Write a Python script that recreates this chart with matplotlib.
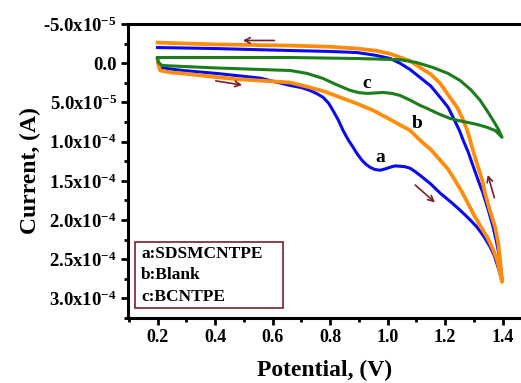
import numpy as np
import matplotlib
matplotlib.use("Agg")
import matplotlib.pyplot as plt
from matplotlib.ticker import MultipleLocator
from matplotlib.patches import Rectangle

plt.rcParams['font.family'] = ['Liberation Serif', 'DejaVu Serif']
plt.rcParams['font.weight'] = 'bold'
plt.rcParams['mathtext.fontset'] = 'custom'
plt.rcParams['mathtext.rm'] = 'Liberation Serif:bold'
plt.rcParams['mathtext.it'] = 'Liberation Serif:bold'
plt.rcParams['mathtext.bf'] = 'Liberation Serif:bold'
plt.rcParams['axes.unicode_minus'] = False

# data (current in units of 1e-5 A)
# a: SDSMCNTPE
a_fwd_x = [0.2, 0.205, 0.216, 0.289, 0.407, 0.557, 0.661, 0.700, 0.730, 0.755, 0.776, 0.795,
           0.810, 0.828, 0.845, 0.862, 0.880, 0.895, 0.911, 0.925, 0.939, 0.955, 0.974, 0.990,
           1.009, 1.025, 1.043, 1.060, 1.078, 1.095, 1.113, 1.150, 1.183, 1.220, 1.252, 1.285,
           1.311, 1.335, 1.357, 1.372, 1.384, 1.398]
a_fwd_y = [-0.5, 0.3, 0.6, 0.93, 1.31, 1.9, 2.84, 3.1, 3.47, 3.9, 4.36, 5.1,
           6.02, 7.2, 8.56, 9.7, 10.72, 11.6, 12.38, 12.9, 13.27, 13.55, 13.65, 13.5,
           13.27, 13.1, 13.14, 13.2, 13.39, 13.8, 14.3, 15.4, 16.58, 17.7, 18.74, 19.9,
           20.9, 22.1, 23.44, 24.6, 26.0, 27.6]
a_rev_x = [1.398, 1.391, 1.380, 1.367, 1.350, 1.332, 1.315, 1.294, 1.280, 1.263, 1.250, 1.228,
           1.210, 1.183, 1.150, 1.113, 1.078, 1.043, 1.009, 0.960, 0.894, 0.800, 0.661, 0.4, 0.2]
a_rev_y = [27.6, 25.1, 23.0, 20.9, 18.7, 16.58, 14.92, 12.76, 11.3, 9.83, 8.6, 6.91,
           5.6, 4.36, 2.9, 1.82, 0.8, 0.0, -0.6, -1.0, -1.36, -1.5, -1.62, -1.87, -2.0]

# b: Blank
b_fwd_x = [0.2, 0.203, 0.209, 0.250, 0.289, 0.463, 0.661, 0.730, 0.780, 0.835, 0.890, 0.950,
           1.000, 1.033, 1.078, 1.113, 1.150, 1.183, 1.210, 1.228, 1.260, 1.297, 1.320, 1.346,
           1.365, 1.381, 1.398]
b_fwd_y = [-0.6, 0.2, 0.93, 1.2, 1.31, 2.0, 2.46, 3.09, 3.6, 4.36, 5.1, 6.02,
           7.0, 7.67, 8.56, 9.83, 11.0, 12.38, 13.5, 14.54, 16.5, 19.12, 20.6, 22.17,
           23.6, 25.1, 27.9]
b_rev_x = [1.398, 1.391, 1.385, 1.374, 1.355, 1.339, 1.329, 1.318, 1.304, 1.290, 1.277, 1.260,
           1.242, 1.210, 1.183, 1.150, 1.113, 1.078, 1.043, 1.009, 0.960, 0.894, 0.800, 0.661,
           0.4, 0.2]
b_rev_y = [27.9, 25.1, 23.0, 20.9, 18.7, 16.58, 14.92, 13.6, 12.0, 10.2, 8.56, 7.0,
           5.64, 4.0, 2.58, 1.4, 0.55, -0.3, -0.75, -1.2, -1.6, -1.87, -2.1, -2.25,
           -2.4, -2.63]

# c: BCNTPE
c_fwd_x = [0.2, 0.203, 0.216, 0.4, 0.661, 0.720, 0.776, 0.820, 0.870, 0.900, 0.929, 0.955,
           0.984, 1.015, 1.043, 1.078, 1.113, 1.137, 1.180, 1.217, 1.245, 1.277, 1.310, 1.346,
           1.375, 1.398]
c_fwd_y = [-0.6, -0.1, 0.29, 0.6, 0.93, 1.3, 1.95, 2.7, 3.47, 3.75, 3.85, 3.8,
           3.73, 3.85, 4.11, 4.7, 5.38, 5.76, 6.5, 7.04, 7.3, 7.54, 7.8, 8.18,
           8.6, 9.45]
c_rev_x = [1.398, 1.385, 1.367, 1.345, 1.322, 1.290, 1.252, 1.210, 1.158, 1.100, 1.043, 0.894,
           0.661, 0.2]
c_rev_y = [9.45, 8.4, 7.29, 6.0, 4.74, 3.4, 2.2, 1.3, 0.55, -0.1, -0.45, -0.6,
           -0.73, -0.73]

yticks = [-5e-5, 0.0, 5e-5, 1e-4, 1.5e-4, 2e-4, 2.5e-4, 3e-4]
ytick_labels = ['-5.0x10$^{-5}$', '0.0', '5.0x10$^{-5}$', '1.0x10$^{-4}$',
                '1.5x10$^{-4}$', '2.0x10$^{-4}$', '2.5x10$^{-4}$', '3.0x10$^{-4}$']
xticks = [0.2, 0.4, 0.6, 0.8, 1.0, 1.2, 1.4]
legend_lines = ['a:SDSMCNTPE', 'b:Blank', 'c:BCNTPE']

blue = '#0a0af0'
orange = '#ff8c0a'
green = '#1b7d1b'
maroon = '#7a1e2e'

fig = plt.figure(figsize=(5.21, 3.83), dpi=100)
ax = fig.add_axes([0.2457, 0.1697, 0.7543, 0.7676])

s = 1e-5
ax.plot(a_fwd_x + a_rev_x, np.array(a_fwd_y + a_rev_y) * s, color=blue, lw=2.2, solid_joinstyle='round')
ax.plot(b_fwd_x + b_rev_x, np.array(b_fwd_y + b_rev_y) * s, color=orange, lw=2.7, solid_joinstyle='round')
ax.plot(c_fwd_x + c_rev_x, np.array(c_fwd_y + c_rev_y) * s, color=green, lw=2.2, solid_joinstyle='round')

ax.set_xlim(0.0974, 1.464)
ax.set_ylim(3.25e-4, -5e-5)

ax.set_xticks(xticks)
ax.set_xticklabels([f'{v:.1f}' for v in xticks])
ax.xaxis.set_minor_locator(MultipleLocator(0.1))
ax.set_yticks(yticks)
ax.set_yticklabels(ytick_labels)
ax.yaxis.set_minor_locator(MultipleLocator(2.5e-5))

ax.tick_params(which='major', direction='out', length=5, width=2, pad=3)
ax.tick_params(axis='x', labelsize=13)
ax.tick_params(axis='y', labelsize=13.5)
ax.tick_params(which='minor', direction='out', length=3, width=2)
for sp in ['left', 'bottom', 'top']:
    ax.spines[sp].set_linewidth(2.2)
ax.spines['right'].set_visible(False)

ax.set_xlabel('Potential, (V)', fontsize=17, fontweight='bold', labelpad=10)
ax.set_ylabel('Current, (A)', fontsize=17, fontweight='bold', labelpad=2)

# curve letters
ax.text(0.929, 2.6e-5, 'c', fontsize=14, fontweight='bold', ha='center', va='center')
ax.text(1.103, 7.7e-5, 'b', fontsize=14, fontweight='bold', ha='center', va='center')
ax.text(0.974, 12.0e-5, 'a', fontsize=14, fontweight='bold', ha='center', va='center')

# scan direction arrows
arrows = [((0.616, -2.9e-5), (0.487, -2.9e-5)),
          ((0.393, 2.2e-5), (0.504, 2.84e-5)),
          ((1.089, 15.3e-5), (1.172, 18.0e-5)),
          ((1.374, 17.5e-5), (1.346, 13.9e-5))]
for tail, head in arrows:
    ax.annotate('', xy=head, xytext=tail,
                arrowprops=dict(arrowstyle='->', color=maroon, lw=1.2, mutation_scale=10))

# legend box
ax.add_patch(Rectangle((0.122, 22.8e-5), 0.637 - 0.122, 31.2e-5 - 22.8e-5,
                       fc='white', ec=maroon, lw=1.2, zorder=3))
for txt, yb in zip(legend_lines, [24.8e-5, 27.5e-5, 30.3e-5]):
    ax.text(0.143, yb, txt, fontsize=12.5, fontweight='bold', ha='left', va='baseline', zorder=4)

fig.savefig('out.png', dpi=100)
